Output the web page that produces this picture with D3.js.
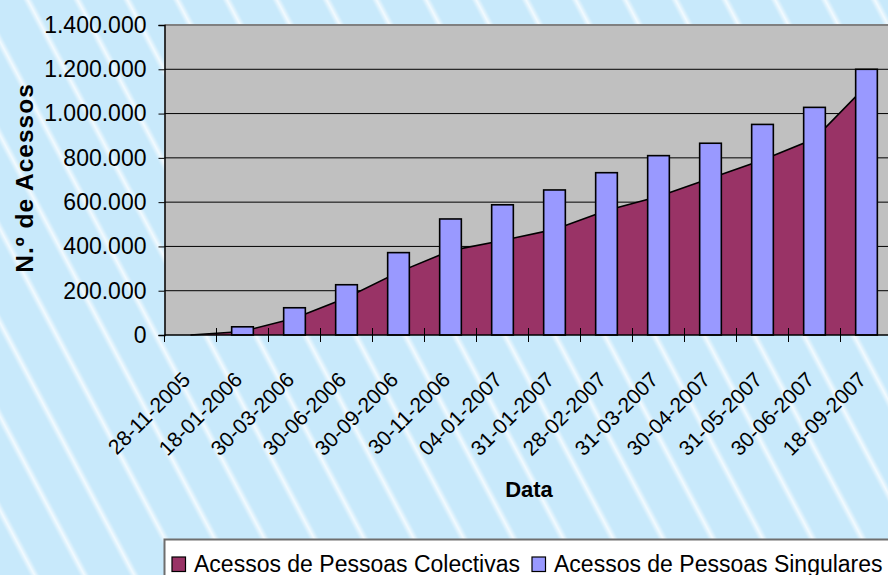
<!DOCTYPE html>
<html>
<head>
<meta charset="utf-8">
<script src="https://cdn.jsdelivr.net/npm/d3@7"></script>
<style>
  body { margin: 0; background: #c8e9fb; }
  svg { display: block; font-family: "Liberation Sans", Arial, sans-serif; }
</style>
</head>
<body>
<div id="chart-area"></div>
<script>
// values
var dates = ["28-11-2005", "18-01-2006", "30-03-2006", "30-06-2006", "30-09-2006",
  "30-11-2006", "04-01-2007", "31-01-2007", "28-02-2007", "31-03-2007",
  "30-04-2007", "31-05-2007", "30-06-2007", "18-09-2007"];
var colectivas = [0, 16000, 76000, 168000, 284000, 381000, 427000, 477000,
  562000, 625000, 708000, 790000, 886000, 1126000];
var singulares = [0, 37000, 123000, 227000, 372000, 524000, 588000, 655000,
  733000, 810000, 866000, 951000, 1028000, 1200000];
var yTicks = [0, 200000, 400000, 600000, 800000, 1000000, 1200000, 1400000];
var seriesNames = ["Acessos de Pessoas Colectivas", "Acessos de Pessoas Singulares"];
var seriesColors = ["#993366", "#9999ff"];

var W = 888, H = 575;
var plot = { left: 164.5, right: 892.5, top: 25, bottom: 335 };

var svg = d3.select("#chart-area")
  .append("svg")
    .attr("width", W)
    .attr("height", H);

// background stripes
var defs = svg.append("defs");
var grad = defs.append("linearGradient")
  .attr("id", "stripeGrad")
  .attr("x1", 0).attr("x2", 1).attr("y1", 0).attr("y2", 0);
grad.append("stop").attr("offset", "0%").attr("stop-color", "#fff").attr("stop-opacity", 0);
grad.append("stop").attr("offset", "50%").attr("stop-color", "#fff").attr("stop-opacity", 0.75);
grad.append("stop").attr("offset", "100%").attr("stop-color", "#fff").attr("stop-opacity", 0);
var pat = defs.append("pattern")
  .attr("id", "stripes")
  .attr("patternUnits", "userSpaceOnUse")
  .attr("width", 44).attr("height", 44)
  .attr("x", 20)
  .attr("patternTransform", "rotate(-28)");
pat.append("rect")
  .attr("width", 9).attr("height", 44)
  .attr("fill", "url(#stripeGrad)");

svg.append("rect").attr("width", W).attr("height", H).attr("fill", "#c8e9fb");
svg.append("rect").attr("width", W).attr("height", H).attr("fill", "url(#stripes)");

// Scales
var x = d3.scaleBand()
  .domain(dates)
  .range([plot.left, plot.right]);
var y = d3.scaleLinear()
  .domain([0, 1400000])
  .range([plot.bottom, plot.top]);

var ptFormat = d3.formatLocale({ decimal: ",", thousands: ".", grouping: [3], currency: ["", ""] })
  .format(",d");

// plot area
svg.append("rect")
  .attr("x", plot.left)
  .attr("y", plot.top)
  .attr("width", plot.right - plot.left)
  .attr("height", plot.bottom - plot.top)
  .attr("fill", "#c0c0c0");

svg.append("g")
  .selectAll("line")
  .data(yTicks.filter(function(d) { return d > 0 && d < 1400000; }))
  .enter().append("line")
    .attr("x1", plot.left).attr("x2", plot.right)
    .attr("y1", function(d) { return y(d); })
    .attr("y2", function(d) { return y(d); })
    .attr("stroke", "#000")
    .attr("stroke-width", 1);

svg.append("line")
  .attr("x1", plot.left).attr("x2", plot.right)
  .attr("y1", plot.top).attr("y2", plot.top)
  .attr("stroke", "#808080")
  .attr("stroke-width", 2);

// area series
var cx = function(i) { return x(dates[i]) + x.bandwidth() / 2; };
var area = d3.area()
  .x(function(d, i) { return cx(i); })
  .y0(y(0))
  .y1(function(d) { return y(d); });
var line = d3.line()
  .x(function(d, i) { return cx(i); })
  .y(function(d) { return y(d); });

svg.append("path")
  .datum(colectivas)
  .attr("d", area)
  .attr("fill", seriesColors[0]);
svg.append("path")
  .datum(colectivas)
  .attr("d", line)
  .attr("fill", "none")
  .attr("stroke", "#000")
  .attr("stroke-width", 1.6);

// columns
var bw = x.bandwidth() / 2.4;
svg.append("g")
  .selectAll("rect")
  .data(singulares)
  .enter().append("rect")
    .attr("x", function(d, i) { return cx(i) - bw / 2; })
    .attr("y", function(d) { return y(d); })
    .attr("width", bw)
    .attr("height", function(d) { return y(0) - y(d); })
    .attr("fill", seriesColors[1])
    .attr("stroke", "#000")
    .attr("stroke-width", 1.6)
    .style("display", function(d) { return d > 0 ? null : "none"; });

// Y Axis
var yAxisCall = d3.axisLeft(y)
  .tickValues(yTicks)
  .tickSize(6)
  .tickPadding(12)
  .tickFormat(ptFormat);
var yAxis = svg.append("g")
  .attr("transform", "translate(" + plot.left + ",0)")
  .call(yAxisCall);
yAxis.select(".domain").attr("stroke", "#000").attr("stroke-width", 1.5);
yAxis.selectAll("line").attr("stroke", "#000");
yAxis.selectAll("text")
  .attr("font-size", "23px")
  .attr("fill", "#000")
  .attr("font-family", "Liberation Sans, Arial, sans-serif");

// X Axis
var xAxis = svg.append("g")
  .attr("transform", "translate(0," + plot.bottom + ")");
xAxis.append("line")
  .attr("x1", plot.left).attr("x2", plot.right)
  .attr("stroke", "#000").attr("stroke-width", 1.5);
xAxis.selectAll(".xt")
  .data(dates)
  .enter().append("line")
    .attr("class", "xt")
    .attr("x1", function(d) { return x(d); })
    .attr("x2", function(d) { return x(d); })
    .attr("y1", function(d, i) { return i === 0 ? 0 : -7; })
    .attr("y2", 7)
    .attr("stroke", "#000");
xAxis.selectAll(".xl")
  .data(dates)
  .enter().append("text")
    .attr("class", "xl")
    .attr("text-anchor", "end")
    .attr("font-size", "21px")
    .attr("transform", function(d, i) {
      return "translate(" + (cx(i) + 1) + ",46) rotate(-45)";
    })
    .text(function(d) { return d; });

// Labels
svg.append("text")
  .attr("transform", "translate(33,178) rotate(-90)")
  .attr("text-anchor", "middle")
  .attr("font-size", "24.5px")
  .attr("font-weight", "bold")
  .attr("letter-spacing", "1px")
  .text("N.º de Acessos");
svg.append("text")
  .attr("x", 529)
  .attr("y", 497)
  .attr("text-anchor", "middle")
  .attr("font-size", "22px")
  .attr("font-weight", "bold")
  .text("Data");

// Legend
var legend = svg.append("g");
legend.append("rect")
  .attr("x", 164.5).attr("y", 539.5)
  .attr("width", 760).attr("height", 60)
  .attr("fill", "#fff")
  .attr("stroke", "#6e6e6e")
  .attr("stroke-width", 2);
var lx = 172;
seriesNames.forEach(function(name, i) {
  legend.append("rect")
    .attr("x", lx).attr("y", 557)
    .attr("width", 13.5).attr("height", 14.5)
    .attr("fill", seriesColors[i])
    .attr("stroke", "#000")
    .attr("stroke-width", 1.2);
  var t = legend.append("text")
    .attr("x", lx + 22)
    .attr("y", 572)
    .attr("font-size", "23px")
    .text(name);
  lx = lx + 22 + t.node().getComputedTextLength() + 12;
});
</script>
</body>
</html>
